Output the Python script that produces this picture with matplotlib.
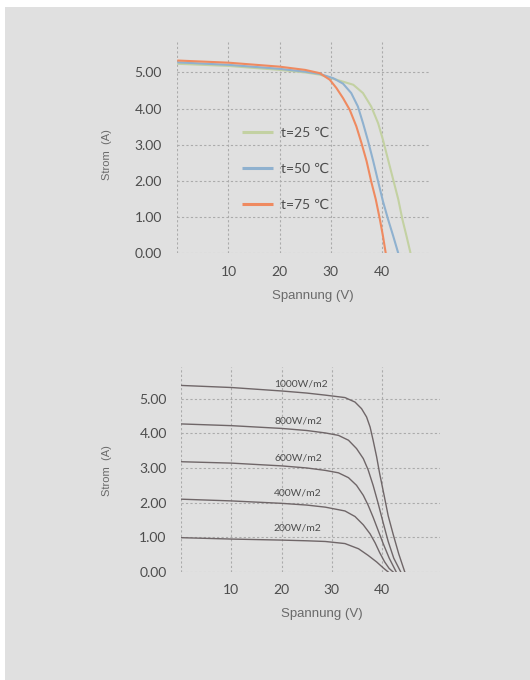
import matplotlib
matplotlib.use("Agg")
import matplotlib.pyplot as plt
from matplotlib.patches import Rectangle

# ---------------- data: top chart (temperature) ----------------
temp_labels = ["t=25 \u2103", "t=50 \u2103", "t=75 \u2103"]
temp_colors = ["#c3d1a2", "#8fb1cf", "#ef8a60"]

v25 = [0, 10, 20, 25, 27.85, 31.1, 34.4, 36.3, 37.9, 39.25, 40.2, 41.2, 42.2, 43.2, 44.0, 44.8, 45.6]
i25 = [5.24, 5.18, 5.07, 5.00, 4.94, 4.80, 4.66, 4.43, 4.06, 3.60, 3.14, 2.59, 2.04, 1.49, 0.94, 0.48, 0.0]

v50 = [0, 10, 20, 25, 27.85, 30.5, 32.4, 34.0, 35.3, 36.3, 37.3, 38.3, 39.25, 40.2, 41.2, 42.2, 43.2]
i50 = [5.28, 5.21, 5.10, 5.02, 4.96, 4.84, 4.69, 4.43, 4.06, 3.60, 3.10, 2.55, 1.99, 1.44, 0.94, 0.48, 0.0]

v75 = [0, 10, 20, 25, 27.85, 29.8, 31.1, 32.4, 33.7, 35.0, 36.0, 37.0, 37.9, 38.8, 39.6, 40.2, 40.75]
i75 = [5.33, 5.27, 5.16, 5.07, 4.98, 4.80, 4.57, 4.29, 3.97, 3.51, 3.05, 2.55, 1.99, 1.49, 0.94, 0.48, 0.0]

# ---------------- data: bottom chart (irradiance) ----------------
irr_labels = ["1000W/m2", "800W/m2", "600W/m2", "400W/m2", "200W/m2"]
irr_label_x = [23.9, 23.4, 23.3, 23.2, 23.1]
irr_label_y = [5.42, 4.36, 3.28, 2.27, 1.26]

v1000 = [0, 10, 20, 25, 28.7, 32.6, 34.6, 35.9, 36.9, 37.6, 38.2, 38.9, 39.5, 40.4, 41.2, 42.2, 43.3, 44.5]
i1000 = [5.38, 5.32, 5.22, 5.16, 5.10, 5.03, 4.90, 4.71, 4.47, 4.18, 3.80, 3.32, 2.84, 2.20, 1.62, 1.08, 0.52, 0.0]

v800 = [0, 10, 20, 25, 28.7, 31.3, 33.3, 34.9, 36.25, 37.2, 38.2, 39.2, 40.2, 41.2, 42.3, 43.7]
i800 = [4.27, 4.22, 4.14, 4.08, 4.01, 3.94, 3.80, 3.56, 3.27, 2.95, 2.50, 1.98, 1.42, 0.88, 0.40, 0.0]

v600 = [0, 10, 20, 25, 28.7, 31.3, 33.3, 34.9, 36.25, 37.2, 38.2, 39.2, 40.2, 41.4, 42.8]
i600 = [3.18, 3.14, 3.06, 3.00, 2.93, 2.86, 2.72, 2.50, 2.21, 1.93, 1.58, 1.20, 0.82, 0.40, 0.0]

v400 = [0, 10, 20, 25, 28.7, 32.6, 34.6, 36.25, 37.6, 38.6, 39.5, 40.5, 41.4, 42.2]
i400 = [2.10, 2.05, 1.98, 1.93, 1.87, 1.76, 1.60, 1.36, 1.10, 0.84, 0.56, 0.29, 0.10, 0.0]

v200 = [0, 10, 20, 25, 28.7, 32.6, 35.3, 37.2, 38.9, 40.2, 41.2]
i200 = [0.99, 0.95, 0.92, 0.90, 0.88, 0.82, 0.67, 0.48, 0.29, 0.12, 0.0]

x_ticks = [0, 10, 20, 30, 40]
x_tick_labels = ["", "10", "20", "30", "40"]
y_ticks = [0, 1, 2, 3, 4, 5]
y_tick_labels = ["0.00", "1.00", "2.00", "3.00", "4.00", "5.00"]

# ---------------- styling ----------------
BG = "#e0e0e0"
GRID = "#ababab"
TICK_COLOR = "#4d4d4d"
LABEL_COLOR = "#6a6a6a"
CURVE_COLOR = "#6f6668"
TICK_FONT = ["Lato", "DejaVu Sans"]
LABEL_FONT = ["Liberation Sans", "DejaVu Sans"]

fig = plt.figure(figsize=(5.3, 6.8), dpi=100)
fig.patch.set_facecolor("white")
fig.add_artist(Rectangle((5 / 530, 0), 1 - 5 / 530, 1 - 7 / 680,
                         transform=fig.transFigure, facecolor=BG,
                         edgecolor="none", zorder=-10))


def style_axes(ax, xmax, ymax, ypad):
    ax.set_facecolor("none")
    ax.set_xlim(0, xmax)
    ax.set_ylim(0, ymax)
    for s in ax.spines.values():
        s.set_visible(False)
    ax.set_xticks(x_ticks)
    ax.set_xticklabels(x_tick_labels)
    ax.set_yticks(y_ticks)
    ax.set_yticklabels(y_tick_labels)
    ax.tick_params(length=0, colors=TICK_COLOR, labelsize=10)
    ax.tick_params(axis="y", pad=ypad)
    ax.tick_params(axis="x", pad=9)
    for lab in ax.get_xticklabels() + ax.get_yticklabels():
        lab.set_family(TICK_FONT)
    ax.grid(True, color=GRID, linestyle=(0, (2, 2)), linewidth=0.8)
    ax.set_axisbelow(True)


# ---------------- top chart ----------------
ax1 = fig.add_axes([177.3 / 530, 1 - 253.3 / 680, 252.7 / 530, 211.6 / 680])
style_axes(ax1, 49.4, 5.85, 11)
for v, i, c, lab in zip([v25, v50, v75], [i25, i50, i75], temp_colors, temp_labels):
    ax1.plot(v, i, color=c, linewidth=1.5, label=lab, solid_capstyle="butt")
leg = ax1.legend(loc="upper left", bbox_to_anchor=(0.255, 0.597), frameon=False,
                 handlelength=2.25, handletextpad=0.55, labelspacing=1.73,
                 borderpad=0, borderaxespad=0,
                 prop={"family": ["Lato", "DejaVu Sans"], "size": 10})
for t in leg.get_texts():
    t.set_color(TICK_COLOR)
for h in leg.get_lines():
    h.set_linewidth(2.2)
ax1.set_xlabel("Spannung (V)", fontsize=9.5, color=LABEL_COLOR,
               family=LABEL_FONT, va="center")
ax1.xaxis.set_label_coords(0.538, -0.20)
ax1.set_ylabel("Strom  (A)", fontsize=8, color=LABEL_COLOR,
               family=LABEL_FONT, va="center")
ax1.yaxis.set_label_coords(-0.279, 0.465)

# ---------------- bottom chart ----------------
ax2 = fig.add_axes([181 / 530, 1 - 572 / 680, 259 / 530, 205.3 / 680])
style_axes(ax2, 51.5, 5.92, 10.3)
for v, i in zip([v1000, v800, v600, v400, v200], [i1000, i800, i600, i400, i200]):
    ax2.plot(v, i, color=CURVE_COLOR, linewidth=1.0)
for lab, x, y in zip(irr_labels, irr_label_x, irr_label_y):
    ax2.text(x, y, lab, ha="center", va="center", fontsize=7.5,
             color=TICK_COLOR, family=TICK_FONT)
ax2.set_xlabel("Spannung (V)", fontsize=9.5, color=LABEL_COLOR,
               family=LABEL_FONT, va="center")
ax2.xaxis.set_label_coords(0.543, -0.205)
ax2.set_ylabel("Strom  (A)", fontsize=8, color=LABEL_COLOR,
               family=LABEL_FONT, va="center")
ax2.yaxis.set_label_coords(-0.285, 0.493)

fig.savefig("out.png", dpi=100, facecolor=fig.get_facecolor())
